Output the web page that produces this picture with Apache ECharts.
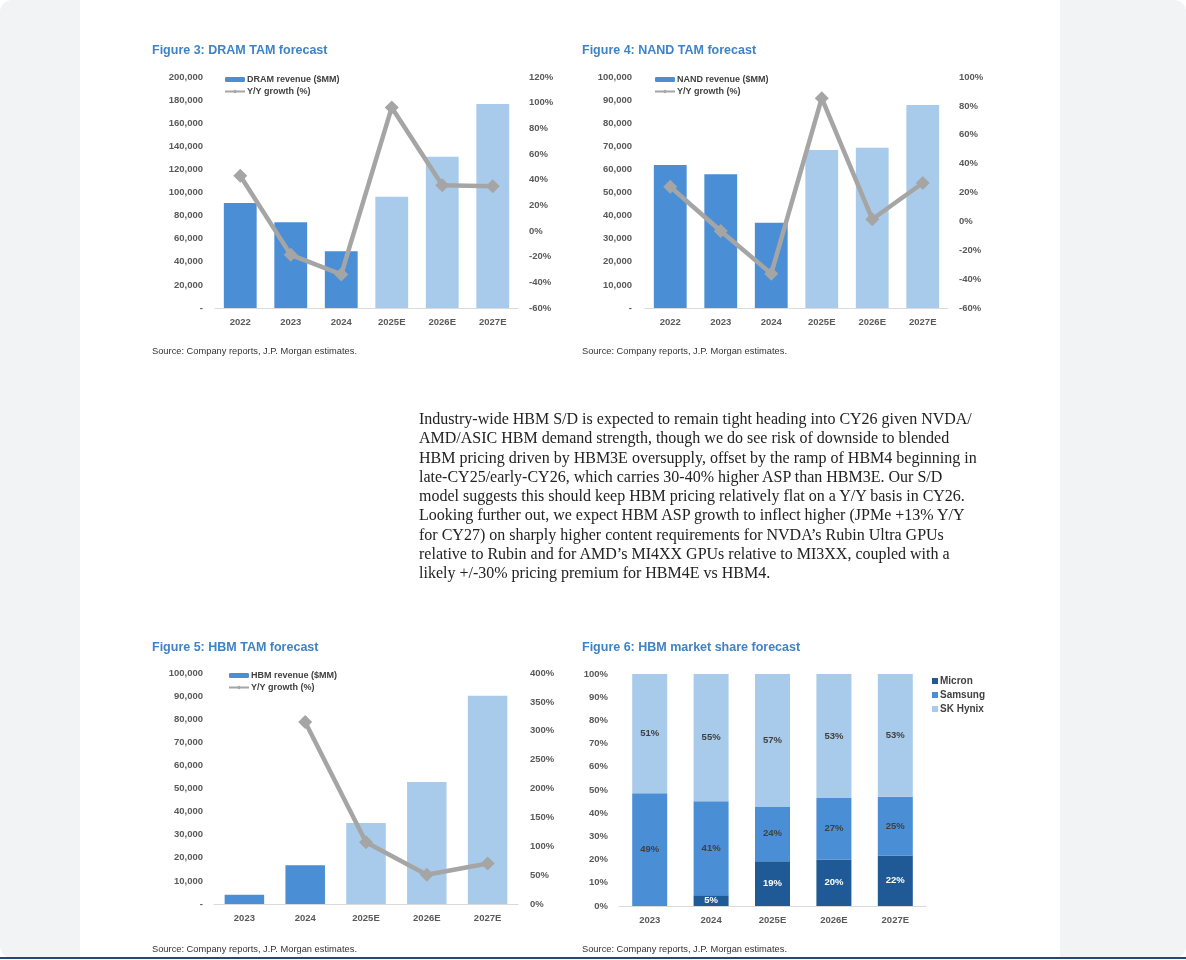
<!DOCTYPE html>
<html><head><meta charset="utf-8">
<script src="https://cdn.jsdelivr.net/npm/echarts@6/dist/echarts.min.js"></script>
<style>
html,body{margin:0;padding:0;background:#fff;width:1186px;height:960px;overflow:hidden;}
#bg{position:absolute;left:0;top:0;width:1186px;height:958px;background:#f2f3f5;border-radius:12px;}
#panel{position:absolute;left:80px;top:0;width:980px;height:958px;background:#fff;}
#bottomline{position:absolute;left:0;top:957px;width:1186px;height:2px;background:#28486f;}
#chart{position:absolute;left:0;top:0;width:1186px;height:960px;}
#para{position:absolute;left:419px;top:409px;font-family:"Liberation Serif","Times New Roman",serif;font-size:16px;line-height:19.3px;color:#222;white-space:nowrap;}
</style></head>
<body>
<div id="bg"></div><div id="panel"></div><div id="bottomline"></div>
<div id="chart"></div>
<div id="para">Industry-wide HBM S/D is expected to remain tight heading into CY26 given NVDA/<br>AMD/ASIC HBM demand strength, though we do see risk of downside to blended<br>HBM pricing driven by HBM3E oversupply, offset by the ramp of HBM4 beginning in<br>late-CY25/early-CY26, which carries 30-40% higher ASP than HBM3E. Our S/D<br>model suggests this should keep HBM pricing relatively flat on a Y/Y basis in CY26.<br>Looking further out, we expect HBM ASP growth to inflect higher (JPMe +13% Y/Y<br>for CY27) on sharply higher content requirements for NVDA’s Rubin Ultra GPUs<br>relative to Rubin and for AMD’s MI4XX GPUs relative to MI3XX, coupled with a<br>likely +/-30% pricing premium for HBM4E vs HBM4.</div>
<script>
// ---- data ----
const dramYears = ['2022','2023','2024','2025E','2026E','2027E'];
const dramRevenue = [91000, 74200, 49100, 96400, 131000, 176600];
const dramGrowth = [43, -18.6, -33.8, 96.3, 35.6, 34.8];

const nandYears = ['2022','2023','2024','2025E','2026E','2027E'];
const nandRevenue = [61900, 57900, 36900, 68400, 69400, 87900];
const nandGrowth = [24, -6.7, -36.2, 85.3, 1.5, 26.6];

const hbmYears = ['2023','2024','2025E','2026E','2027E'];
const hbmRevenue = [4000, 16800, 35100, 52800, 90200];
const hbmGrowth = [null, 315, 107, 50.6, 70];

const shareYears = ['2023','2024','2025E','2026E','2027E'];
const micronShare = [0, 4.6, 19.3, 20.0, 21.8];
const samsungShare = [48.6, 40.6, 23.6, 26.6, 25.3];
const skhynixShare = [51.4, 54.8, 57.1, 53.4, 52.9];

const dramTicksPct = {min: -60, max: 120, interval: 20};
const nandTicksPct = {min: -60, max: 100, interval: 20};
const hbmTicksPct = {min: 0, max: 400, interval: 50};

// ---- styles ----
const C_ACT = '#4a8fd5', C_EST = '#a9cbeb', C_LINE = '#a5a5a5';
const C_MICRON = '#1f5a96', C_SAMSUNG = '#4a8fd6', C_SK = '#a9cbeb';
const FONT = '"Liberation Sans", Arial, sans-serif';
const lab = {color:'#595959', fontWeight:'bold', fontSize:9.5, fontFamily:FONT};
const numFmt = v => v === 0 ? '-' : v.toLocaleString('en-US');
const pctFmt = v => v + '%';

function catAxis(grid, data){
  return {type:'category', gridIndex:grid, data:data,
    axisLine:{lineStyle:{color:'#d9d9d9', width:1}}, axisTick:{show:false},
    axisLabel:Object.assign({margin:9}, lab)};
}
function valAxis(grid, pos, min, max, interval, fmt, margin){
  return {type:'value', gridIndex:grid, position:pos, min:min, max:max, interval:interval,
    axisLine:{show:false}, axisTick:{show:false}, splitLine:{show:false},
    axisLabel:Object.assign({margin:margin, formatter:fmt}, lab)};
}
function colored(vals, cats){
  return vals.map((v,i)=>({value:v, itemStyle:{color: cats[i].indexOf('E')>=0 ? C_EST : C_ACT}}));
}
function barSeries(name, vals, cats, xi, yi){
  return {name:name, type:'bar', xAxisIndex:xi, yAxisIndex:yi, barWidth:'65%',
    itemStyle:{color:C_ACT}, data:colored(vals, cats)};
}
function lineSeries(vals, xi, yi){
  return {name:'Y/Y growth (%)', type:'line', xAxisIndex:xi, yAxisIndex:yi, z:5,
    symbol:'diamond', symbolSize:14, connectNulls:false,
    lineStyle:{color:C_LINE, width:4.5}, itemStyle:{color:C_LINE}, data:vals};
}
function tTitle(text, left, top){
  return {text:text, left:left, top:top, padding:0,
    textStyle:{color:'#3f83c6', fontWeight:'bold', fontSize:12.5, fontFamily:'"Liberation Sans Narrow", "Liberation Sans", Arial, sans-serif'}};
}
function tSource(left, top){
  return {text:'Source: Company reports, J.P. Morgan estimates.', left:left, top:top, padding:0,
    textStyle:{color:'#333', fontWeight:'normal', fontSize:9.3, fontFamily:FONT}};
}
function lg(names, left, top, gap, w, h, fs){
  return {data:names, left:left, top:top, orient:'vertical', itemGap:gap, itemWidth:w, itemHeight:h,
    selectedMode:false, padding:0,
    textStyle:{color:'#404040', fontWeight:'bold', fontSize:fs, fontFamily:FONT, padding:[0,0,0,-3]}};
}

const chart = echarts.init(document.getElementById('chart'), null, {renderer:'canvas'});
const shareLabel = (color, weight) => ({show:true, position:'inside', color:color, fontWeight:weight,
  fontSize:9.5, fontFamily:FONT, formatter: p => p.value > 0 ? Math.round(p.value) + '%' : ''});

chart.setOption({
  animation:false,
  backgroundColor:'transparent',
  title:[
    tTitle('Figure 3: DRAM TAM forecast', 152, 44),
    tTitle('Figure 4: NAND TAM forecast', 582, 44),
    tTitle('Figure 5: HBM TAM forecast', 152, 641),
    tTitle('Figure 6: HBM market share forecast', 582, 641),
    tSource(152, 347), tSource(582, 347), tSource(152, 945), tSource(582, 945)
  ],
  legend:[
    lg(['DRAM revenue ($MM)','Y/Y growth (%)'], 224, 75, 3, 20, 5, 9),
    lg(['NAND revenue ($MM)','Y/Y growth (%)'], 654, 75, 3, 20, 5, 9),
    lg(['HBM revenue ($MM)','Y/Y growth (%)'], 228, 671, 3, 20, 5, 9),
    Object.assign(lg(['Micron','Samsung','SK Hynix'], 932, 676, 4, 6, 6, 10), {icon:'rect'})
  ],
  grid:[
    {left:215, top:77, width:303, height:231},
    {left:645, top:77, width:303, height:231},
    {left:214, top:673, width:304, height:231},
    {left:619, top:674, width:307, height:232}
  ],
  xAxis:[ catAxis(0, dramYears), catAxis(1, nandYears), catAxis(2, hbmYears), catAxis(3, shareYears) ],
  yAxis:[
    valAxis(0,'left',0,200000,20000,numFmt,12),
    valAxis(0,'right',dramTicksPct.min,dramTicksPct.max,dramTicksPct.interval,pctFmt,11),
    valAxis(1,'left',0,100000,10000,numFmt,13),
    valAxis(1,'right',nandTicksPct.min,nandTicksPct.max,nandTicksPct.interval,pctFmt,11),
    valAxis(2,'left',0,100000,10000,numFmt,11),
    valAxis(2,'right',hbmTicksPct.min,hbmTicksPct.max,hbmTicksPct.interval,pctFmt,12),
    valAxis(3,'left',0,100,10,pctFmt,11)
  ],
  series:[
    barSeries('DRAM revenue ($MM)', dramRevenue, dramYears, 0, 0),
    lineSeries(dramGrowth, 0, 1),
    barSeries('NAND revenue ($MM)', nandRevenue, nandYears, 1, 2),
    lineSeries(nandGrowth, 1, 3),
    barSeries('HBM revenue ($MM)', hbmRevenue, hbmYears, 2, 4),
    lineSeries(hbmGrowth, 2, 5),
    {name:'Micron', type:'bar', stack:'s', xAxisIndex:3, yAxisIndex:6, barWidth:'57%',
      itemStyle:{color:C_MICRON}, label:shareLabel('#ffffff','bold'), data:micronShare},
    {name:'Samsung', type:'bar', stack:'s', xAxisIndex:3, yAxisIndex:6, barWidth:'57%',
      itemStyle:{color:C_SAMSUNG}, label:shareLabel('#404040','bold'), data:samsungShare},
    {name:'SK Hynix', type:'bar', stack:'s', xAxisIndex:3, yAxisIndex:6, barWidth:'57%',
      itemStyle:{color:C_SK}, label:shareLabel('#404040','bold'), data:skhynixShare}
  ]
});
</script>
</body></html>
